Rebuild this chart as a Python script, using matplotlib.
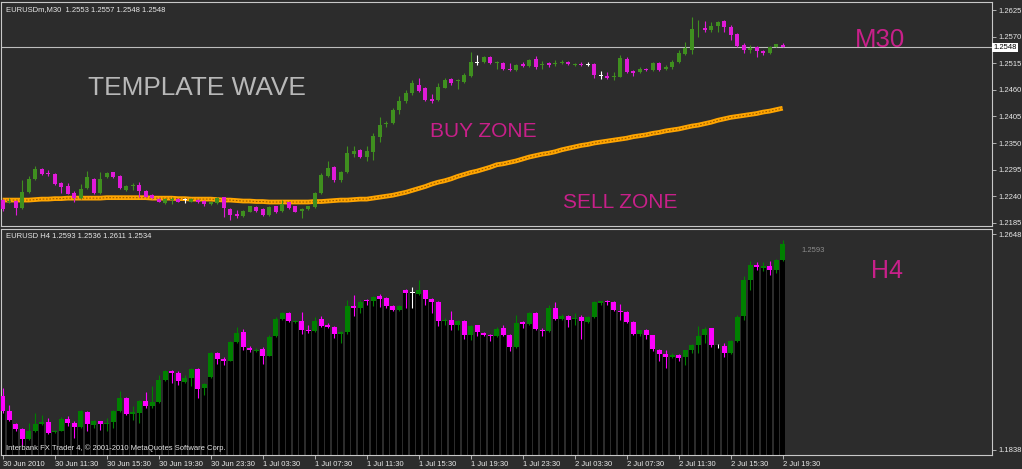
import matplotlib
matplotlib.use("Agg")
import matplotlib.pyplot as plt
import matplotlib.transforms as mtransforms
import numpy as np

# Chart data -------------------------------------------------------------------
# EURUSDm M30 (upper window), one value per bar
top_open = [
    1.2232, 1.2229, 1.2230, 1.2215, 1.2248, 1.2276, 1.2296, 1.2288, 1.2286, 1.2267,
    1.2261, 1.2246, 1.2236, 1.2256, 1.2276, 1.2246, 1.2279, 1.2290, 1.2281, 1.2253,
    1.2262, 1.2263, 1.2251, 1.2243, 1.2234, 1.2225, 1.2233, 1.2234, 1.2232, 1.2229,
    1.2232, 1.2230, 1.2224, 1.2225, 1.2238, 1.2213, 1.2203, 1.2199, 1.2208, 1.2217,
    1.2214, 1.2201, 1.2219, 1.2210, 1.2227, 1.2219, 1.2210, 1.2214, 1.2217, 1.2246,
    1.2281, 1.2301, 1.2274, 1.2291, 1.2327, 1.2336, 1.2322, 1.2332, 1.2363, 1.2389,
    1.2391, 1.2418, 1.2436, 1.2453, 1.2471, 1.2463, 1.2440, 1.2438, 1.2464, 1.2482,
    1.2479, 1.2477, 1.2489, 1.2516, 1.2517, 1.2527, 1.2516, 1.2516, 1.2504, 1.2500,
    1.2513, 1.2509, 1.2523, 1.2511, 1.2516, 1.2513, 1.2516, 1.2518, 1.2511, 1.2513,
    1.2512, 1.2513, 1.2489, 1.2489, 1.2486, 1.2487, 1.2524, 1.2499, 1.2496, 1.2503,
    1.2500, 1.2516, 1.2503, 1.2508, 1.2518, 1.2535, 1.2542, 1.2585, 1.2587, 1.2584,
    1.2593, 1.2602, 1.2589, 1.2575, 1.2553, 1.2542, 1.2548, 1.2541, 1.2536, 1.2549, 1.2553]
top_high = [
    1.2234, 1.2236, 1.2232, 1.2274, 1.2281, 1.2303, 1.2298, 1.2294, 1.2287, 1.2270,
    1.2268, 1.2250, 1.2265, 1.2293, 1.2277, 1.2291, 1.2291, 1.2291, 1.2283, 1.2263,
    1.2268, 1.2270, 1.2253, 1.2245, 1.2236, 1.2236, 1.2238, 1.2236, 1.2236, 1.2236,
    1.2234, 1.2232, 1.2229, 1.2239, 1.2239, 1.2215, 1.2212, 1.2212, 1.2220, 1.2219,
    1.2215, 1.2219, 1.2220, 1.2232, 1.2229, 1.2220, 1.2215, 1.2220, 1.2248, 1.2287,
    1.2312, 1.2302, 1.2293, 1.2343, 1.2343, 1.2337, 1.2343, 1.2370, 1.2403, 1.2396,
    1.2422, 1.2447, 1.2460, 1.2480, 1.2484, 1.2465, 1.2451, 1.2474, 1.2484, 1.2484,
    1.2482, 1.2494, 1.2539, 1.2532, 1.2529, 1.2529, 1.2520, 1.2518, 1.2515, 1.2513,
    1.2518, 1.2523, 1.2529, 1.2520, 1.2518, 1.2522, 1.2522, 1.2520, 1.2515, 1.2518,
    1.2517, 1.2515, 1.2499, 1.2497, 1.2497, 1.2532, 1.2527, 1.2501, 1.2508, 1.2506,
    1.2518, 1.2518, 1.2511, 1.2522, 1.2542, 1.2558, 1.2611, 1.2604, 1.2602, 1.2601,
    1.2602, 1.2604, 1.2594, 1.2577, 1.2556, 1.2553, 1.2550, 1.2542, 1.2550, 1.2555, 1.2557]
top_low = [
    1.2210, 1.2225, 1.2201, 1.2214, 1.2246, 1.2274, 1.2284, 1.2282, 1.2263, 1.2247,
    1.2244, 1.2229, 1.2234, 1.2254, 1.2245, 1.2245, 1.2277, 1.2277, 1.2255, 1.2251,
    1.2252, 1.2239, 1.2238, 1.2234, 1.2227, 1.2224, 1.2224, 1.2227, 1.2225, 1.2227,
    1.2225, 1.2220, 1.2222, 1.2224, 1.2198, 1.2191, 1.2194, 1.2198, 1.2207, 1.2208,
    1.2199, 1.2199, 1.2205, 1.2208, 1.2213, 1.2207, 1.2194, 1.2212, 1.2215, 1.2245,
    1.2279, 1.2270, 1.2270, 1.2289, 1.2322, 1.2320, 1.2312, 1.2315, 1.2353, 1.2384,
    1.2389, 1.2411, 1.2432, 1.2449, 1.2456, 1.2436, 1.2432, 1.2436, 1.2463, 1.2471,
    1.2461, 1.2475, 1.2487, 1.2511, 1.2515, 1.2513, 1.2504, 1.2501, 1.2499, 1.2499,
    1.2507, 1.2508, 1.2504, 1.2504, 1.2508, 1.2510, 1.2513, 1.2511, 1.2510, 1.2509,
    1.2509, 1.2484, 1.2482, 1.2482, 1.2480, 1.2486, 1.2494, 1.2489, 1.2494, 1.2498,
    1.2498, 1.2499, 1.2501, 1.2504, 1.2515, 1.2532, 1.2534, 1.2570, 1.2580, 1.2580,
    1.2580, 1.2580, 1.2563, 1.2549, 1.2536, 1.2536, 1.2527, 1.2532, 1.2534, 1.2548, 1.2548]
top_close = [
    1.2213, 1.2231, 1.2215, 1.2248, 1.2276, 1.2296, 1.2285, 1.2286, 1.2265, 1.2259,
    1.2245, 1.2236, 1.2255, 1.2279, 1.2246, 1.2276, 1.2287, 1.2279, 1.2256, 1.2261,
    1.2264, 1.2250, 1.2239, 1.2236, 1.2229, 1.2234, 1.2235, 1.2229, 1.2232, 1.2234,
    1.2227, 1.2224, 1.2227, 1.2236, 1.2215, 1.2201, 1.2200, 1.2210, 1.2219, 1.2210,
    1.2201, 1.2217, 1.2207, 1.2223, 1.2215, 1.2208, 1.2213, 1.2219, 1.2246, 1.2283,
    1.2298, 1.2274, 1.2291, 1.2329, 1.2334, 1.2322, 1.2334, 1.2365, 1.2387, 1.2392,
    1.2418, 1.2436, 1.2454, 1.2474, 1.2458, 1.2438, 1.2437, 1.2465, 1.2480, 1.2474,
    1.2480, 1.2490, 1.2518, 1.2516, 1.2527, 1.2515, 1.2518, 1.2503, 1.2500, 1.2511,
    1.2509, 1.2522, 1.2508, 1.2513, 1.2511, 1.2516, 1.2518, 1.2513, 1.2513, 1.2511,
    1.2512, 1.2491, 1.2489, 1.2484, 1.2488, 1.2525, 1.2496, 1.2494, 1.2503, 1.2500,
    1.2516, 1.2501, 1.2508, 1.2518, 1.2536, 1.2546, 1.2585, 1.2586, 1.2584, 1.2593,
    1.2600, 1.2589, 1.2573, 1.2551, 1.2542, 1.2547, 1.2541, 1.2536, 1.2549, 1.2554, 1.2548]
top_ma = [
    1.2232, 1.2232, 1.2232, 1.2232, 1.2232, 1.2233, 1.2234, 1.2234, 1.2235, 1.2235,
    1.2236, 1.2236, 1.2236, 1.2236, 1.2236, 1.2236, 1.2237, 1.2237, 1.2237, 1.2237,
    1.2237, 1.2237, 1.2237, 1.2236, 1.2236, 1.2236, 1.2236, 1.2235, 1.2235, 1.2234,
    1.2234, 1.2234, 1.2234, 1.2233, 1.2232, 1.2232, 1.2231, 1.2230, 1.2230, 1.2229,
    1.2229, 1.2228, 1.2228, 1.2228, 1.2228, 1.2228, 1.2228, 1.2228, 1.2229, 1.2229,
    1.2230, 1.2231, 1.2232, 1.2232, 1.2233, 1.2234, 1.2234, 1.2236, 1.2238, 1.2240,
    1.2242, 1.2245, 1.2248, 1.2252, 1.2256, 1.2260, 1.2265, 1.2269, 1.2272, 1.2276,
    1.2281, 1.2285, 1.2289, 1.2292, 1.2296, 1.2300, 1.2305, 1.2307, 1.2310, 1.2313,
    1.2317, 1.2321, 1.2324, 1.2327, 1.2329, 1.2332, 1.2336, 1.2339, 1.2342, 1.2345,
    1.2347, 1.2350, 1.2352, 1.2354, 1.2356, 1.2358, 1.2360, 1.2363, 1.2365, 1.2367,
    1.2370, 1.2372, 1.2375, 1.2377, 1.2379, 1.2382, 1.2385, 1.2387, 1.2390, 1.2393,
    1.2397, 1.2400, 1.2403, 1.2405, 1.2407, 1.2409, 1.2411, 1.2414, 1.2416, 1.2419, 1.2422]

# EURUSD H4 (lower window)
h4_open = [
    1.2041, 1.1985, 1.1935, 1.1916, 1.1879, 1.1907, 1.1935, 1.1942, 1.1905, 1.1910,
    1.1955, 1.1938, 1.1922, 1.1980, 1.1932, 1.1945, 1.1935, 1.1941, 1.1985, 1.2032,
    1.1973, 1.1976, 1.2020, 1.2001, 1.2016, 1.2101, 1.2135, 1.2126, 1.2092, 1.2107,
    1.2141, 1.2070, 1.2111, 1.2201, 1.2179, 1.2172, 1.2241, 1.2279, 1.2220, 1.2210,
    1.2217, 1.2191, 1.2264, 1.2330, 1.2350, 1.2316, 1.2320, 1.2289, 1.2283, 1.2329,
    1.2305, 1.2299, 1.2273, 1.2280, 1.2379, 1.2370, 1.2399, 1.2395, 1.2414, 1.2408,
    1.2379, 1.2364, 1.2438, 1.2426, 1.2424, 1.2436, 1.2404, 1.2393, 1.2323, 1.2324,
    1.2305, 1.2320, 1.2268, 1.2305, 1.2276, 1.2268, 1.2264, 1.2295, 1.2270, 1.2222,
    1.2316, 1.2310, 1.2351, 1.2289, 1.2283, 1.2370, 1.2330, 1.2339, 1.2329, 1.2336,
    1.2316, 1.2336, 1.2389, 1.2395, 1.2393, 1.2358, 1.2355, 1.2316, 1.2274, 1.2289,
    1.2268, 1.2214, 1.2197, 1.2185, 1.2195, 1.2185, 1.2211, 1.2230, 1.2270, 1.2295,
    1.2230, 1.2226, 1.2201, 1.2247, 1.2339, 1.2477, 1.2530, 1.2520, 1.2527, 1.2512, 1.2549]
h4_high = [
    1.2070, 1.2007, 1.1938, 1.1920, 1.1938, 1.1976, 1.1970, 1.1957, 1.1913, 1.1960,
    1.1963, 1.1945, 1.1988, 1.1985, 1.1951, 1.1947, 1.1957, 1.1988, 1.2060, 1.2035,
    1.2001, 1.2026, 1.2055, 1.2076, 1.2120, 1.2139, 1.2139, 1.2132, 1.2120, 1.2145,
    1.2145, 1.2089, 1.2205, 1.2205, 1.2185, 1.2245, 1.2298, 1.2293, 1.2229, 1.2220,
    1.2222, 1.2270, 1.2335, 1.2354, 1.2354, 1.2326, 1.2354, 1.2308, 1.2335, 1.2339,
    1.2314, 1.2304, 1.2283, 1.2401, 1.2420, 1.2401, 1.2405, 1.2414, 1.2423, 1.2411,
    1.2383, 1.2383, 1.2441, 1.2448, 1.2474, 1.2439, 1.2408, 1.2395, 1.2333, 1.2358,
    1.2326, 1.2324, 1.2308, 1.2308, 1.2279, 1.2273, 1.2298, 1.2305, 1.2273, 1.2345,
    1.2323, 1.2354, 1.2354, 1.2295, 1.2380, 1.2393, 1.2349, 1.2343, 1.2351, 1.2343,
    1.2339, 1.2395, 1.2398, 1.2401, 1.2395, 1.2385, 1.2358, 1.2320, 1.2289, 1.2293,
    1.2270, 1.2217, 1.2214, 1.2201, 1.2197, 1.2214, 1.2235, 1.2301, 1.2298, 1.2295,
    1.2235, 1.2239, 1.2251, 1.2345, 1.2492, 1.2548, 1.2542, 1.2542, 1.2545, 1.2555, 1.2624]
h4_low = [
    1.1976, 1.1945, 1.1907, 1.1857, 1.1876, 1.1905, 1.1932, 1.1898, 1.1901, 1.1907,
    1.1926, 1.1882, 1.1920, 1.1907, 1.1920, 1.1913, 1.1907, 1.1920, 1.1980, 1.1970,
    1.1951, 1.1938, 1.1995, 1.1995, 1.2013, 1.2095, 1.2089, 1.2082, 1.2089, 1.2076,
    1.2032, 1.2045, 1.2107, 1.2160, 1.2157, 1.2170, 1.2239, 1.2214, 1.2205, 1.2205,
    1.2161, 1.2189, 1.2260, 1.2326, 1.2316, 1.2314, 1.2273, 1.2276, 1.2280, 1.2299,
    1.2295, 1.2257, 1.2239, 1.2273, 1.2339, 1.2351, 1.2383, 1.2376, 1.2373, 1.2370,
    1.2358, 1.2360, 1.2370, 1.2370, 1.2420, 1.2383, 1.2351, 1.2304, 1.2305, 1.2289,
    1.2289, 1.2255, 1.2251, 1.2264, 1.2264, 1.2245, 1.2260, 1.2264, 1.2207, 1.2220,
    1.2295, 1.2308, 1.2289, 1.2264, 1.2280, 1.2326, 1.2326, 1.2298, 1.2308, 1.2255,
    1.2314, 1.2333, 1.2380, 1.2380, 1.2358, 1.2326, 1.2314, 1.2270, 1.2264, 1.2255,
    1.2207, 1.2170, 1.2145, 1.2182, 1.2172, 1.2157, 1.2201, 1.2201, 1.2239, 1.2222,
    1.2220, 1.2186, 1.2199, 1.2242, 1.2326, 1.2439, 1.2514, 1.2510, 1.2495, 1.2502, 1.2545]
h4_close = [
    1.1985, 1.1951, 1.1916, 1.1879, 1.1907, 1.1935, 1.1942, 1.1901, 1.1910, 1.1955,
    1.1938, 1.1922, 1.1982, 1.1935, 1.1947, 1.1935, 1.1938, 1.1985, 1.2032, 1.1973,
    1.1978, 1.2022, 1.2001, 1.2017, 1.2101, 1.2135, 1.2126, 1.2095, 1.2107, 1.2141,
    1.2067, 1.2086, 1.2201, 1.2179, 1.2170, 1.2241, 1.2276, 1.2224, 1.2214, 1.2214,
    1.2191, 1.2261, 1.2330, 1.2351, 1.2320, 1.2323, 1.2289, 1.2283, 1.2323, 1.2304,
    1.2298, 1.2274, 1.2280, 1.2379, 1.2370, 1.2393, 1.2395, 1.2411, 1.2404, 1.2376,
    1.2364, 1.2379, 1.2426, 1.2426, 1.2436, 1.2405, 1.2393, 1.2323, 1.2326, 1.2308,
    1.2320, 1.2268, 1.2304, 1.2279, 1.2268, 1.2264, 1.2293, 1.2270, 1.2222, 1.2314,
    1.2311, 1.2351, 1.2291, 1.2283, 1.2370, 1.2330, 1.2339, 1.2326, 1.2333, 1.2320,
    1.2335, 1.2393, 1.2395, 1.2393, 1.2364, 1.2354, 1.2318, 1.2274, 1.2286, 1.2268,
    1.2216, 1.2197, 1.2185, 1.2195, 1.2182, 1.2211, 1.2230, 1.2266, 1.2291, 1.2230,
    1.2230, 1.2201, 1.2247, 1.2336, 1.2477, 1.2533, 1.2524, 1.2527, 1.2512, 1.2552, 1.2610]

top_ticks = [1.2625, 1.2570, 1.2515, 1.2460, 1.2405, 1.2350, 1.2295, 1.2240, 1.2185]
h4_ticks = [1.2648, 1.1838]
bid_price = 1.2548
time_labels = ['30 Jun 2010', '30 Jun 11:30', '30 Jun 15:30', '30 Jun 19:30',
               '30 Jun 23:30', '1 Jul 03:30', '1 Jul 07:30', '1 Jul 11:30',
               '1 Jul 15:30', '1 Jul 19:30', '1 Jul 23:30', '2 Jul 03:30',
               '2 Jul 07:30', '2 Jul 11:30', '2 Jul 15:30', '2 Jul 19:30']
bars_per_label = 8

# Style ------------------------------------------------------------------------
BG = '#2c2c2c'
FRAME = '#c8c8c8'
TXT = '#e8e8e8'
ZONE = '#c8208a'
plt.rcParams['font.family'] = ['Liberation Sans', 'DejaVu Sans']


def candles(ax, o, h, l, c, width, up, down, wick_lw, min_body):
    o, h, l, c = map(np.asarray, (o, h, l, c))
    x = np.arange(len(o))
    cols = np.where(c > o, up, np.where(c < o, down, 'white'))
    ax.vlines(x, l, h, colors=cols, lw=wick_lw, zorder=3)
    body = np.maximum(np.abs(c - o), min_body)
    ax.bar(x, body, width, bottom=np.minimum(o, c), color=cols, zorder=4,
           linewidth=0)


def frame(ax):
    ax.set_facecolor(BG)
    for s in ax.spines.values():
        s.set_color(FRAME)
        s.set_linewidth(0.8)
    ax.yaxis.tick_right()
    ax.tick_params(axis='y', colors=FRAME, labelcolor=TXT, labelsize=5.5,
                   length=3, width=0.6, pad=2)


fig = plt.figure(figsize=(10.22, 4.69), dpi=100, facecolor=BG)
ax1 = fig.add_axes([1/1022, 1-226/469, 991/1022, 224/469])
ax2 = fig.add_axes([1/1022, 1-455/469, 991/1022, 226/469])

# Upper window: M30 ------------------------------------------------------------
frame(ax1)
candles(ax1, top_open, top_high, top_low, top_close, 0.62,
        '#3f8f1f', '#e01ad8', 0.8, 0.00018)
xb = np.arange(len(top_ma))
ax1.plot(xb, top_ma, color='#ffa500', lw=3.4, zorder=2, solid_capstyle='butt')
ax1.plot(xb, top_ma, color='#9a5c00', lw=0.8, ls=(0, (1.5, 1.5)), zorder=2)
ax1.axhline(bid_price, color='#bdbdbd', lw=0.8, zorder=1)
ax1.set_xlim(-0.26, 152.2)
ax1.set_ylim(1.21784, 1.26416)
ax1.set_xticks([])
ax1.set_yticks(top_ticks)
ax1.set_yticklabels(['%.4f' % t for t in top_ticks])

tr = mtransforms.blended_transform_factory(ax1.transAxes, ax1.transData)
ax1.text(1.001, bid_price, '%.4f' % bid_price, transform=tr, ha='left',
         va='center', fontsize=5.5, color='black', clip_on=False,
         bbox=dict(facecolor='white', edgecolor='none', pad=0.8))

ax1.text(0.005, 0.960, 'EURUSDm,M30  1.2553 1.2557 1.2548 1.2548',
         transform=ax1.transAxes, fontsize=5.5, color=TXT, va='baseline')
ax1.text(0.0878, 0.585, 'TEMPLATE WAVE', transform=ax1.transAxes,
         fontsize=18.9, color='#b8b8b8', va='baseline')
ax1.text(0.433, 0.397, 'BUY ZONE', transform=ax1.transAxes,
         fontsize=15, color=ZONE, va='baseline')
ax1.text(0.567, 0.080, 'SELL ZONE', transform=ax1.transAxes,
         fontsize=15, color=ZONE, va='baseline')
ax1.text(0.862, 0.799, 'M30', transform=ax1.transAxes,
         fontsize=18.5, color=ZONE, va='baseline')

# Lower window: H4 -------------------------------------------------------------
frame(ax2)
ylo = 1.18181
xh = np.arange(len(h4_open))
base = np.minimum(h4_open, h4_close)
ax2.bar(xh, base - ylo + 0.001, 0.8, bottom=ylo - 0.001, color='black',
        linewidth=0, zorder=2)
candles(ax2, h4_open, h4_high, h4_low, h4_close, 0.8,
        '#008000', '#ff00ff', 0.8, 0.0003)
ax2.set_xlim(-0.26, 152.2)
ax2.set_ylim(ylo, 1.26668)
ax2.set_yticks(h4_ticks)
ax2.set_yticklabels(['%.4f' % t for t in h4_ticks])
ax2.set_xticks(np.arange(len(time_labels)) * bars_per_label)
ax2.set_xticklabels(time_labels, ha='left')
ax2.tick_params(axis='x', colors=FRAME, labelcolor=TXT, labelsize=5.5,
                length=3, width=0.6, pad=1.5)

ax2.text(0.005, 0.958, 'EURUSD H4 1.2593 1.2536 1.2611 1.2534',
         transform=ax2.transAxes, fontsize=5.5, color=TXT, va='baseline')
ax2.text(0.808, 0.898, '1.2593', transform=ax2.transAxes,
         fontsize=5.5, color='#8c8c8c', va='baseline')
ax2.text(0.878, 0.783, 'H4', transform=ax2.transAxes,
         fontsize=18, color=ZONE, va='baseline')
ax2.text(0.005, 0.024, 'Interbank FX Trader 4, \u00a9 2001-2010 MetaQuotes Software Corp.',
         transform=ax2.transAxes, fontsize=5.5, color=TXT, va='baseline',
         zorder=6)

fig.savefig('out.png', dpi=100, facecolor=BG)
